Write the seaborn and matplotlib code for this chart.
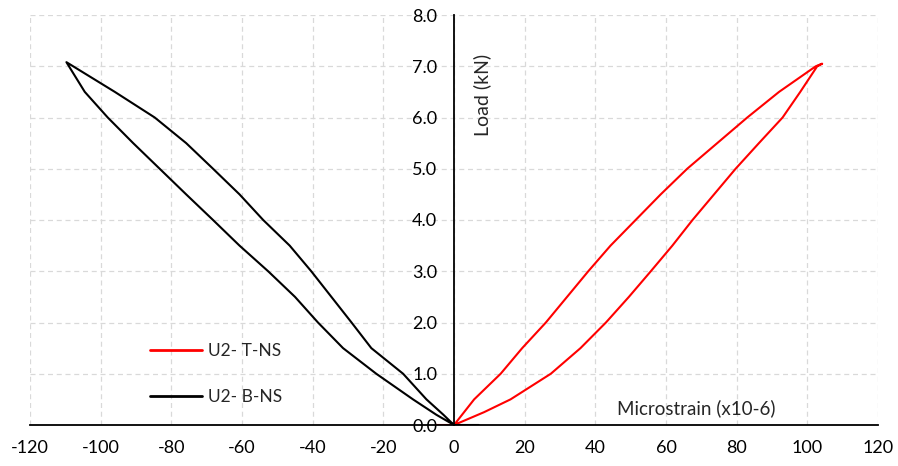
import matplotlib
matplotlib.use("Agg")
import matplotlib.pyplot as plt
import seaborn as sns
import numpy as np
import pandas as pd

# ---- data ----
# U2-T-NS (red): loading branch (lower/right) then unloading (upper/left)
t_x = [-5, 0, 8.5, 16, 27.4, 35.8, 43, 49.5, 55.7, 61.8, 67.5, 73.6, 79.7, 86.3, 93, 98, 102.8, 104.2,
       102.4, 92, 83, 74.5, 66, 58.5, 51.4, 44.3, 38, 32, 26, 19.3, 13.2, 5.7, 0]
t_y = [0, 0, 0.25, 0.5, 1.0, 1.5, 2.0, 2.5, 3.0, 3.5, 4.0, 4.5, 5.0, 5.5, 6.0, 6.5, 7.0, 7.05,
       7.0, 6.5, 6.0, 5.5, 5.0, 4.5, 4.0, 3.5, 3.0, 2.5, 2.0, 1.5, 1.0, 0.5, 0]

# U2-B-NS (black): outer/left branch up, inner/right branch down
b_x = [0, -5, -11.6, -22, -31.4, -38.5, -45, -52.6, -60.7, -68.2, -75.8, -83.3, -90.8, -98, -104.5, -109.7,
       -96, -84.7, -75.8, -68.2, -60.7, -54, -46.5, -40.4, -34.7, -29, -23.4, -14.4, -7.8, -3, 0, 7]
b_y = [0, 0.2, 0.5, 1.0, 1.5, 2.0, 2.5, 3.0, 3.5, 4.0, 4.5, 5.0, 5.5, 6.0, 6.5, 7.08,
       6.5, 6.0, 5.5, 5.0, 4.5, 4.0, 3.5, 3.0, 2.5, 2.0, 1.5, 1.0, 0.5, 0.2, 0, 0]

x_ticks = list(range(-120, 121, 20))
y_ticks = [0, 1, 2, 3, 4, 5, 6, 7, 8]

sns.set_style("white")
plt.rcParams['font.family'] = ['Lato', 'DejaVu Sans']

fig = plt.figure(figsize=(8.98, 4.66), dpi=100)
ax = fig.add_axes([30/898, 41/466, 848/898, 410/466])

sns.lineplot(x=t_x, y=t_y, sort=False, estimator=None, color="#ff0000", lw=1.5, label="U2- T-NS", ax=ax)
sns.lineplot(x=b_x, y=b_y, sort=False, estimator=None, color="#000000", lw=1.5, label="U2- B-NS", ax=ax)

for s in ["top", "right"]:
    ax.spines[s].set_visible(False)
ax.spines["left"].set_position(("data", 0))
ax.spines["left"].set_color("black")
ax.spines["left"].set_linewidth(1.3)
ax.spines["bottom"].set_color("black")
ax.spines["bottom"].set_linewidth(1.3)

ax.set_xlim(-120, 120)
ax.set_ylim(0, 8)
ax.set_xticks(x_ticks)
ax.set_yticks(y_ticks)
ax.set_xticklabels([str(v) for v in x_ticks])
ax.set_yticklabels([f"{v:.1f}" for v in y_ticks])
ax.tick_params(axis='both', length=0, colors="#000000", labelsize=13)
ax.tick_params(axis='x', pad=11)
ax.tick_params(axis='y', pad=12)

ax.grid(True, color="#d9d9d9", linestyle=(0, (4, 3)), linewidth=0.9)
ax.set_axisbelow(True)

ax.set_xlabel("")
ax.set_ylabel("")
ax.text(7.9, 6.45, "Load (kN)", rotation=90, ha="center", va="center", fontsize=14)
ax.text(46.1, 0.33, "Microstrain (x10-6)", ha="left", va="center", fontsize=13.5)

leg = ax.legend(loc="upper left", bbox_to_anchor=(0.1415, 0.2), frameon=False,
                fontsize=12.5, handlelength=3.0, handletextpad=0.35, labelspacing=1.75,
                borderpad=0, borderaxespad=0)
for line in leg.get_lines():
    line.set_linewidth(2.0)

fig.savefig("out.png", dpi=100)
